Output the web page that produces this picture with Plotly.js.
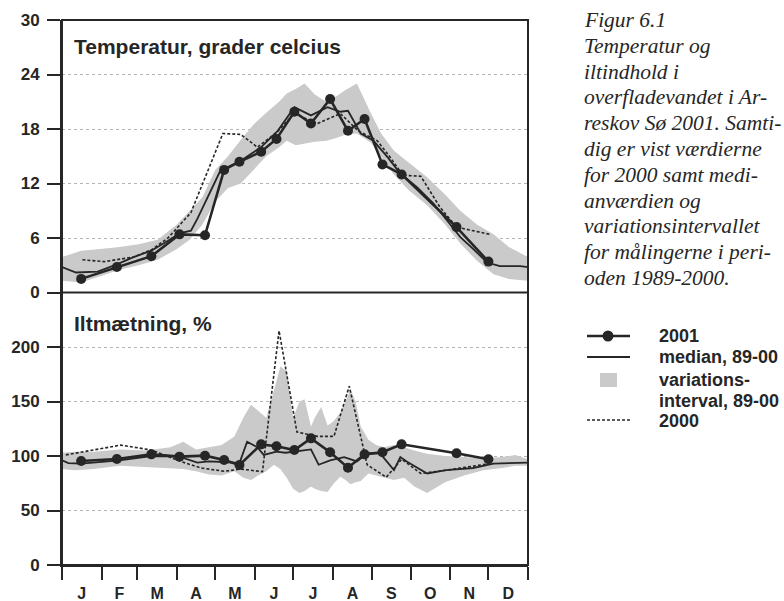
<!DOCTYPE html>
<html><head><meta charset="utf-8">
<script src="https://cdn.plot.ly/plotly-3.0.1.min.js"></script>
<style>html,body{margin:0;padding:0;background:#fff}</style>
</head><body><div id="chart" style="width:784px;height:601px"></div>
<script>
// ---- categories / axes ----
const monthLetters = ['J','F','M','A','M','J','J','A','S','O','N','D'];
const monthStarts = [0,31,59,90,120,151,181,212,243,273,304,334,365];

// ---- 2001 measurements (day of year) ----
const days2001 = [15,43,70,92,112,127,139,156,168,182,195,210,224,237,251,266,309,334];
const temp2001 = [1.5,2.8,4.0,6.4,6.3,13.5,14.4,15.5,16.9,19.9,18.6,21.3,17.8,19.1,14.1,13.0,7.2,3.4];
const oxy2001  = [95.4,97.2,101.5,99.4,100.3,96.3,91.7,110.7,109,105.5,116.2,103.4,89.3,101.5,103.4,110.7,102.5,97];

// ---- median 89-00, temperature ----
const tempMedDays = [0,11,28,43,56,70,83,92,101,106,124,140,156,169,182,195,208,218,224,234,244,255,265,278,291,302,312,322,333,343,359,365];
const tempMed     = [2.8,2.2,2.3,3.1,3.9,4.6,5.7,6.5,6.8,8.1,13.4,14.5,16.0,17.8,20.4,19.5,20.4,19.9,20.0,17.5,16.7,14.9,13.1,11.6,9.8,7.9,6.1,4.8,3.3,2.9,2.9,2.8];

// ---- 2000, temperature ----
const temp2000Days = [16,33,56,70,83,101,126,140,153,168,182,200,218,232,247,257,267,281,296,309,335];
const temp2000     = [3.6,3.4,3.9,4.7,6.0,8.8,17.5,17.4,16.0,17.6,19.7,18.6,19.7,17.8,16.7,14.9,12.9,12.8,9.4,7.2,6.4];

// ---- variation interval 89-00, temperature ----
const tempBandDays = [0,15,30,45,60,75,90,100,110,120,130,140,150,160,170,176,183,190,198,207,215,222,231,242,250,260,272,286,300,312,325,338,350,365];
const tempBandHi   = [3.9,4.6,4.8,5.0,5.3,5.8,7.5,9.0,10.5,13.5,15.0,16.8,18.5,19.8,21.0,21.9,22.4,23.0,21.8,21.0,21.6,22.3,23.0,19.7,17.5,15.6,14.3,12.7,10.8,9.0,7.5,6.4,5.0,3.9];
const tempBandLo   = [1.3,1.1,1.8,2.5,3.0,3.6,4.8,5.8,7.5,10.0,11.5,12.0,13.5,15.0,16.0,16.7,16.2,16.4,16.6,16.7,17.0,17.4,17.5,16.5,15.0,13.0,11.2,9.6,7.5,5.4,3.5,2.0,1.5,1.3];

// ---- median 89-00, oxygen saturation ----
const oxyMedDays = [0,5,15,45,70,92,106,115,127,139,145,153,158,168,175,182,195,201,210,221,231,239,249,260,265,270,286,301,322,338,361,365];
const oxyMed     = [96,93.5,93,96,100,99.5,94,95,94.5,93.5,113,108,101,104,103,104,106,92,96,99,95,102.5,102.5,87,99,95,84,87,89,93,94,94];

// ---- 2000, oxygen saturation ----
const oxy2000Days = [3,46,70,93,109,127,140,157,170,184,200,213,225,239,254,266,281,301,335];
const oxy2000     = [101,110,105.5,95,89,86,88,85.6,215,122,118,118,164,92,80.5,97,84,87,93];

// ---- variation interval 89-00, oxygen saturation ----
const oxyBandDays = [0,10,25,45,65,85,95,105,115,125,135,142,148,155,160,166,171,176,181,186,190,195,198,203,208,213,218,222,226,230,234,240,246,252,260,268,276,286,300,315,330,345,355,365];
const oxyBandHi   = [103,104,104,106,105,108,113,106,108,110,118,135,147,140,135,160,182,178,135,150,152,127,135,145,128,132,140,150,161,150,127,115,110,108,110,108,105,102,100,99,98,99,101,97];
const oxyBandLo   = [88,87,88,91,90,89,88,86,83,82,86,80,78,83,86,92,88,80,70,66,68,72,70,68,67,75,81,78,74,76,77,84,82,80,78,80,72,66,76,82,87,89,91,91];

// ---- texts ----
const titleTemp = 'Temperatur, grader celcius';
const titleOxy = 'Iltmætning, %';
const legendLabels = ['2001','median, 89-00','variations-','interval, 89-00','2000'];
const captionLines = ['Figur 6.1','Temperatur og','iltindhold i','overfladevandet i Ar-','reskov Sø 2001. Samti-','dig er vist værdierne','for 2000 samt medi-','anværdien og','variationsintervallet','for målingerne i peri-','oden 1989-2000.'];

// ---- layout helpers (pixel -> paper) ----
const W = 784, H = 601, ML = 62, MR = 256, MT = 20, MB = 36;
const PW = W - ML - MR, PH = H - MT - MB;
const px = v => (v - ML) / PW;
const py = v => (H - MB - v) / PH;

const ink = '#262626';
const bandColor = 'rgb(202,202,202)';
const sans = 'Liberation Sans, Arial, sans-serif';

function band(days, lo, hi, ya) {
  return [
    {x: days, y: lo, yaxis: ya, type: 'scatter', mode: 'lines', line: {width: 0, color: bandColor}, hoverinfo: 'skip', showlegend: false},
    {x: days, y: hi, yaxis: ya, type: 'scatter', mode: 'lines', line: {width: 0, color: bandColor}, fill: 'tonexty', fillcolor: bandColor, name: 'variations-interval, 89-00', showlegend: false}
  ];
}
const medLine = {color: ink, width: 1.8};
const dashLine = {color: ink, width: 1.6, dash: '3px,2px'};
const line2001 = {color: ink, width: 2.6};
const mark2001 = {color: ink, size: 10};

const traces = [
  ...band(tempBandDays, tempBandLo, tempBandHi, 'y'),
  {x: temp2000Days, y: temp2000, yaxis: 'y', mode: 'lines', line: dashLine, name: '2000', showlegend: false},
  {x: tempMedDays, y: tempMed, yaxis: 'y', mode: 'lines', line: medLine, name: 'median, 89-00', showlegend: false},
  {x: days2001, y: temp2001, yaxis: 'y', mode: 'lines+markers', line: line2001, marker: mark2001, name: '2001', showlegend: false},
  ...band(oxyBandDays, oxyBandLo, oxyBandHi, 'y2'),
  {x: oxy2000Days, y: oxy2000, yaxis: 'y2', mode: 'lines', line: dashLine, name: '2000', showlegend: false},
  {x: oxyMedDays, y: oxyMed, yaxis: 'y2', mode: 'lines', line: medLine, name: 'median, 89-00', showlegend: false},
  {x: days2001, y: oxy2001, yaxis: 'y2', mode: 'lines+markers', line: line2001, marker: mark2001, name: '2001', showlegend: false}
];

const monthMids = monthStarts.slice(0, 12).map((s, i) => (s + monthStarts[i + 1]) / 2);
const tickFont = {family: sans, size: 17, color: ink, weight: 700};

const yCommon = {
  showline: true, linecolor: ink, linewidth: 2,
  ticks: 'outside', ticklen: 13, tickwidth: 2, tickcolor: ink,
  tickfont: tickFont, ticklabelstandoff: 4,
  showgrid: true, gridcolor: '#b5b5b5', gridwidth: 1, griddash: 'dot',
  zeroline: false, fixedrange: true
};

const annotations = [
  {xref: 'paper', yref: 'paper', x: px(72), y: py(47), xanchor: 'left', yanchor: 'middle', showarrow: false,
   text: titleTemp, font: {family: sans, size: 21, color: ink, weight: 700}},
  {xref: 'paper', yref: 'paper', x: px(72), y: py(323), xanchor: 'left', yanchor: 'middle', showarrow: false,
   text: titleOxy, font: {family: sans, size: 21, color: ink, weight: 700}}
];
captionLines.forEach((t, i) => annotations.push({
  xref: 'paper', yref: 'paper', x: px(582), y: py(20 + i * 25.8), xanchor: 'left', yanchor: 'middle', align: 'left', showarrow: false,
  text: t, font: {family: 'Liberation Serif, Times New Roman, serif', size: 21.5, color: ink, style: 'italic'}
}));
const legendY = [336, 357, 380, 401, 421];
legendLabels.forEach((t, i) => annotations.push({
  xref: 'paper', yref: 'paper', x: px(657), y: py(legendY[i]), xanchor: 'left', yanchor: 'middle', showarrow: false,
  text: t, font: {family: sans, size: 18, color: ink, weight: 700}
}));

const shapes = [
  {type: 'rect', xref: 'paper', yref: 'paper', x0: 0, x1: 1, y0: 0, y1: 1, line: {color: ink, width: 2}},
  {type: 'line', xref: 'paper', yref: 'paper', x0: 0, x1: 1, y0: 0.5, y1: 0.5, line: {color: ink, width: 2}},
  // legend samples
  {type: 'line', xref: 'paper', yref: 'paper', x0: px(587), x1: px(630), y0: py(336), y1: py(336), line: {color: ink, width: 2.6}},
  {type: 'circle', xref: 'paper', yref: 'paper', x0: px(602.5), x1: px(613.5), y0: py(330.5), y1: py(341.5), fillcolor: ink, line: {color: ink, width: 0}},
  {type: 'line', xref: 'paper', yref: 'paper', x0: px(587), x1: px(630), y0: py(357), y1: py(357), line: {color: ink, width: 2}},
  {type: 'rect', xref: 'paper', yref: 'paper', x0: px(600), x1: px(617), y0: py(373), y1: py(387), fillcolor: bandColor, line: {width: 0}},
  {type: 'line', xref: 'paper', yref: 'paper', x0: px(587), x1: px(630), y0: py(420), y1: py(420), line: {color: ink, width: 1.4, dash: '3px,2px'}}
];

const layout = {
  width: W, height: H,
  margin: {l: ML, r: MR, t: MT, b: MB, pad: 0},
  paper_bgcolor: '#fff', plot_bgcolor: '#fff',
  showlegend: false,
  xaxis: {
    range: [0, 365], anchor: 'y2', fixedrange: true,
    showline: true, linecolor: ink, linewidth: 2,
    tickmode: 'array', tickvals: monthMids, ticktext: monthLetters,
    ticks: 'outside', ticklen: 13, tickcolor: 'rgba(0,0,0,0)',
    tickfont: {family: sans, size: 16, color: ink, weight: 700},
    minor: {tickmode: 'array', tickvals: monthStarts, ticks: 'outside', ticklen: 13, tickwidth: 2, tickcolor: ink, showgrid: false},
    showgrid: false, zeroline: false
  },
  yaxis: Object.assign({}, yCommon, {domain: [0.5, 1], range: [0, 30], tickmode: 'array', tickvals: [0, 6, 12, 18, 24, 30], anchor: 'x'}),
  yaxis2: Object.assign({}, yCommon, {domain: [0, 0.5], range: [0, 250], tickmode: 'array', tickvals: [0, 50, 100, 150, 200], anchor: 'x'}),
  annotations: annotations,
  shapes: shapes
};

Plotly.newPlot('chart', traces, layout, {displayModeBar: false, staticPlot: true});
</script>
</body></html>
